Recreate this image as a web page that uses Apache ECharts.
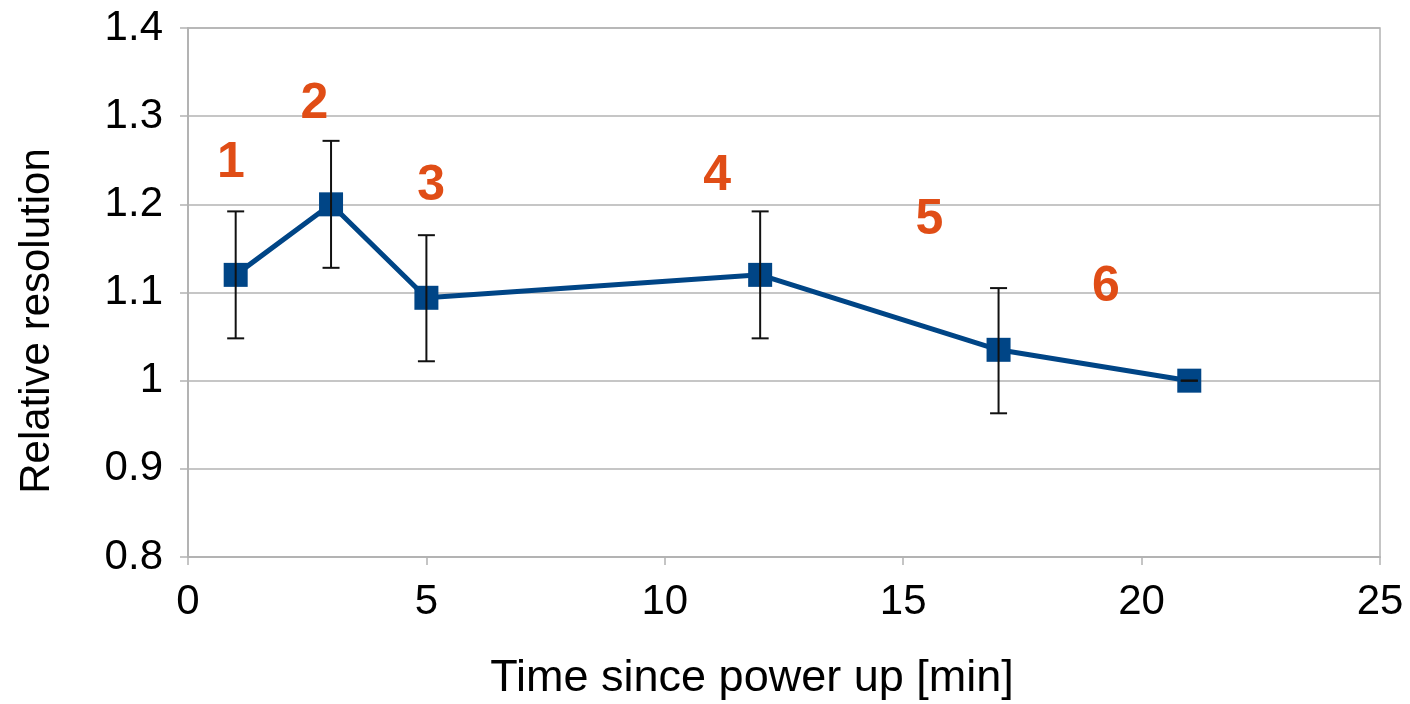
<!DOCTYPE html>
<html><head><meta charset="utf-8">
<script src="https://cdn.jsdelivr.net/npm/echarts@6/dist/echarts.min.js"></script>
<style>html,body{margin:0;padding:0;background:#fff}#c{width:1410px;height:704px}</style>
</head><body><div id="c"></div>
<script>
const timeMin = [1, 3, 5, 12, 17, 21];
const relRes = [1.12, 1.2, 1.094, 1.12, 1.035, 1.0];
const errLow = [1.048, 1.128, 1.022, 1.048, 0.963, 1.0];
const errHigh = [1.192, 1.272, 1.165, 1.192, 1.105, 1.0];
const noteX = [0.9, 2.65, 5.1, 11.1, 15.55, 19.25];
const noteY = [1.247, 1.314, 1.22, 1.232, 1.182, 1.106];
const noteText = ['1', '2', '3', '4', '5', '6'];
const yTicks = ['0.8', '0.9', '1', '1.1', '1.2', '1.3', '1.4'];

const font = 'Liberation Sans';
const chart = echarts.init(document.getElementById('c'));
chart.setOption({
  animation: false,
  backgroundColor: '#fff',
  grid: {left: 188, right: 30, top: 28, bottom: 147, show: true, borderColor: '#b3b3b3', borderWidth: 1.5},
  xAxis: {
    type: 'value', min: 0, max: 25, interval: 5,
    axisLine: {show: true, lineStyle: {color: '#b3b3b3', width: 2}},
    axisTick: {show: true, length: 8, lineStyle: {color: '#b3b3b3', width: 1.5}},
    splitLine: {show: false},
    axisLabel: {color: '#000', fontSize: 42, fontFamily: font, margin: 24}
  },
  yAxis: {
    type: 'value', min: 0.8, max: 1.4, interval: 0.1,
    axisLine: {show: true, lineStyle: {color: '#b3b3b3', width: 2}},
    axisTick: {show: true, length: 8, lineStyle: {color: '#b3b3b3', width: 1.5}},
    splitLine: {show: true, lineStyle: {color: '#b3b3b3', width: 1.5}},
    axisLabel: {color: '#000', fontSize: 42, fontFamily: font, margin: 25,
      formatter: v => yTicks[Math.round((v - 0.8) * 10)]}
  },
  graphic: [
    {type: 'text', x: 37, y: 321, rotation: Math.PI / 2,
      style: {text: 'Relative resolution', fill: '#000', font: '42px "Liberation Sans"', align: 'center', verticalAlign: 'middle'}},
    {type: 'text', x: 752, y: 679,
      style: {text: 'Time since power up [min]', fill: '#000', font: '45px "Liberation Sans"', align: 'center', verticalAlign: 'middle'}}
  ],
  series: [
    {
      type: 'line', data: timeMin.map((t, i) => [t, relRes[i]]),
      symbol: 'rect', symbolSize: 24,
      lineStyle: {color: '#004586', width: 5},
      itemStyle: {color: '#004586'}, z: 3
    },
    {
      type: 'custom', z: 5,
      data: timeMin.map((t, i) => [t, errLow[i], errHigh[i]]),
      renderItem: (params, api) => {
        const lo = api.coord([api.value(0), api.value(1)]);
        const hi = api.coord([api.value(0), api.value(2)]);
        const w = 8.5;
        const st = {stroke: '#111', lineWidth: 2};
        return {type: 'group', children: [
          {type: 'line', shape: {x1: hi[0], y1: hi[1], x2: lo[0], y2: lo[1]}, style: st},
          {type: 'line', shape: {x1: hi[0] - w, y1: hi[1], x2: hi[0] + w, y2: hi[1]}, style: st},
          {type: 'line', shape: {x1: lo[0] - w, y1: lo[1], x2: lo[0] + w, y2: lo[1]}, style: st}
        ]};
      }
    },
    {
      type: 'scatter', symbolSize: 0, z: 6,
      itemStyle: {opacity: 1},
      data: noteX.map((x, i) => ({value: [x, noteY[i]], name: noteText[i]})),
      label: {show: true, position: 'inside', formatter: p => p.name, opacity: 1,
        color: '#e04d16', fontSize: 50, fontWeight: 'bold', fontFamily: font}
    }
  ]
});
</script></body></html>
